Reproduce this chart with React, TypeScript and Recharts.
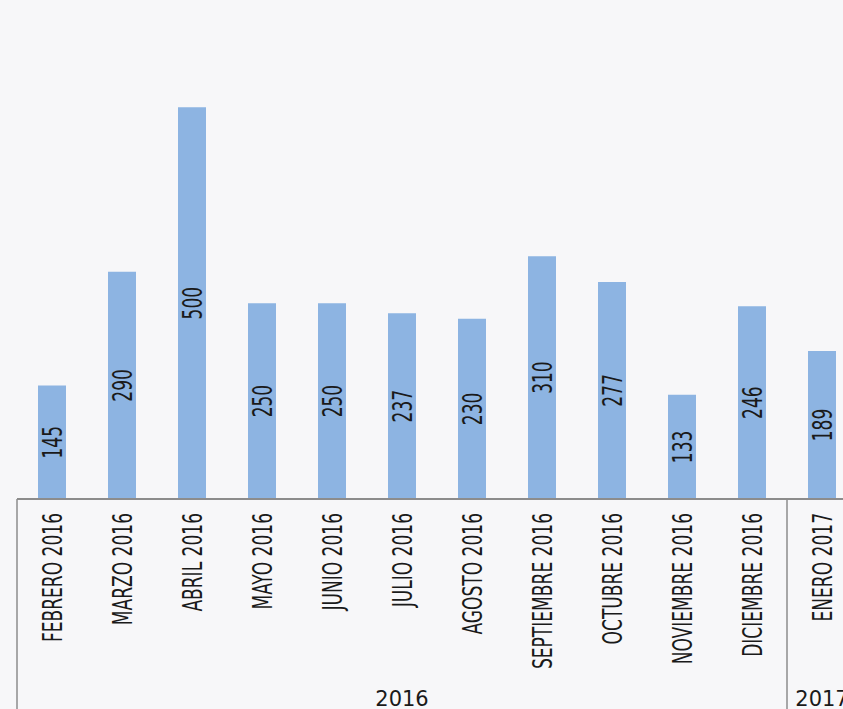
import React from 'react';
import { BarChart, Bar, XAxis, YAxis, LabelList } from 'recharts';

const meses = [
  'FEBRERO 2016',
  'MARZO 2016',
  'ABRIL 2016',
  'MAYO 2016',
  'JUNIO 2016',
  'JULIO 2016',
  'AGOSTO 2016',
  'SEPTIEMBRE 2016',
  'OCTUBRE 2016',
  'NOVIEMBRE 2016',
  'DICIEMBRE 2016',
  'ENERO 2017',
];
const valores = [145, 290, 500, 250, 250, 237, 230, 310, 277, 133, 246, 189];

// year groups under the month labels
const grupos = ['2016', '2017'];
const mesesPorGrupo = [11, 1];

const data = meses.map((mes, i) => ({ mes, valor: valores[i] }));

const CHART_W = 857;
const MARGIN_LEFT = 17;
const PLOT_W = CHART_W - MARGIN_LEFT;
const CAT_W = PLOT_W / meses.length;
const AXIS_H = 180;
const GROUP_H = 60;

const NARROW = "'Liberation Sans Narrow', 'DejaVu Sans Condensed', sans-serif";
const LINE = '#8c8c8c';

// index where each group starts
const inicios = mesesPorGrupo.map((_, g) =>
  mesesPorGrupo.slice(0, g).reduce((a, b) => a + b, 0)
);

function MonthTick(props: any) {
  const { x, y, payload, index } = props;
  const esInicio = inicios.includes(index);
  return (
    <g>
      {esInicio && (
        <line
          x1={x - CAT_W / 2}
          x2={x - CAT_W / 2}
          y1={y}
          y2={y + AXIS_H + GROUP_H}
          stroke={LINE}
          strokeWidth={1.5}
        />
      )}
      <text
        transform={`translate(${x},${y + 14}) rotate(-90) scale(0.73,1)`}
        textAnchor="end"
        dy="0.38em"
        fontFamily={NARROW}
        fontSize={26}
        fill="#1a1a1a"
      >
        {payload.value}
      </text>
    </g>
  );
}

function GroupTick(props: any) {
  const { x, y, index } = props;
  const g = inicios.findIndex(
    (s, k) => index === s + Math.floor((mesesPorGrupo[k] - 1) / 2)
  );
  if (g < 0) return <g />;
  return (
    <text
      x={x}
      y={y + 27}
      textAnchor="middle"
      fontFamily="'DejaVu Sans', sans-serif"
      fontSize={21}
      fill="#1a1a1a"
    >
      {grupos[g]}
    </text>
  );
}

function ValueLabel(props: any) {
  const { x, y, width, height, value } = props;
  const cx = x + width / 2;
  const cy = y + height / 2;
  return (
    <text
      transform={`translate(${cx},${cy}) rotate(-90) scale(0.73,1)`}
      textAnchor="middle"
      dy="0.4em"
      fontFamily={NARROW}
      fontSize={26}
      fill="#1a1a1a"
    >
      {value}
    </text>
  );
}

export default function App() {
  return (
    <div
      style={{
        position: 'fixed',
        left: 0,
        top: 0,
        width: 843,
        height: 709,
        overflow: 'hidden',
        background: '#f7f7f9',
      }}
    >
      <BarChart
        width={CHART_W}
        height={29 + 470 + AXIS_H + GROUP_H}
        data={data}
        margin={{ top: 29, right: 0, left: MARGIN_LEFT, bottom: 0 }}
      >
        <XAxis
          dataKey="mes"
          height={AXIS_H}
          interval={0}
          tickSize={0}
          tickMargin={0}
          tickLine={false}
          axisLine={{ stroke: LINE, strokeWidth: 2 }}
          tick={<MonthTick />}
        />
        <XAxis
          xAxisId="grupo"
          dataKey="mes"
          height={GROUP_H}
          interval={0}
          tickSize={0}
          tickMargin={0}
          tickLine={false}
          axisLine={false}
          tick={<GroupTick />}
        />
        <YAxis hide domain={[0, 600]} />
        <Bar dataKey="valor" fill="#8db4e2" barSize={28} isAnimationActive={false}>
          <LabelList dataKey="valor" content={<ValueLabel />} />
        </Bar>
      </BarChart>
    </div>
  );
}
